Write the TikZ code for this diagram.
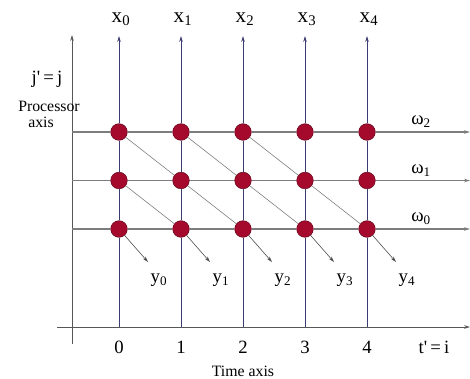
\documentclass[tikz,border=0pt]{standalone}
\usepackage{fontspec}
\setmainfont{Liberation Serif}
\definecolor{granate}{RGB}{165,10,45}
\definecolor{marino}{RGB}{60,60,115}
\definecolor{gris}{RGB}{125,125,125}
\usetikzlibrary{arrows.meta,positioning}

\begin{document}
\begin{tikzpicture}[x=0.03cm,y=-0.03cm,
    celda/.style={circle,fill=granate,draw=granate!60!black,thin,
                  minimum size=0.5cm,inner sep=0pt},
    eje/.style={gris!70!black,line width=0.8pt,-{Stealth[length=5pt,width=3pt]}},
    fila/.style={gris,line width=1pt,-{Stealth[length=5pt,width=3pt]}},
    columna/.style={marino,line width=0.8pt,-{Stealth[length=5pt,width=3pt]}},
    diag/.style={gris,line width=0.5pt},
    salida/.style={black!70,line width=0.5pt,-{Stealth[length=5pt,width=3pt]}},
    etq/.style={font=\fontsize{16}{18}\selectfont,inner sep=1pt},
    peq/.style={font=\fontsize{13.5}{15}\selectfont,inner sep=1pt}]
  \useasboundingbox (0,0) rectangle (470,378);
  % ejes
  \coordinate (vbot) at (72,344);
  \coordinate (vtop) at (72,35);
  \coordinate (hleft) at (57,327);
  \coordinate (hright) at (470,327);
  \draw[eje] (vbot) -- (vtop);
  \draw[eje] (hleft) -- (hright);
  % procesadores
  \foreach \i in {0,...,4}
    \foreach \j in {0,1,2}
      \node[celda] (c\i\j) at (119+62*\i,229-48.5*\j) {};
  % columnas x_i
  \foreach \i in {0,...,4} {
    \coordinate (b\i) at (119+62*\i,327);
    \coordinate (t\i) at (119+62*\i,36);
    \draw[columna] (b\i) -- (c\i0) -- (c\i1) -- (c\i2) -- (t\i);
    \node[font=\fontsize{18}{20}\selectfont,inner sep=1pt] (x\i) at (121+62*\i,19) {x\textsubscript{\i}};
    \node[etq] (n\i) at (119+62*\i,347) {\i};
  }
  % filas omega_j
  \foreach \j/\dy in {0/229,1/180.5,2/132} {
    \coordinate (w\j) at (72,\dy);
    \coordinate (e\j) at (470,\dy);
    \draw[fila] (w\j) -- (c0\j) -- (c1\j) -- (c2\j) -- (c3\j) -- (c4\j) -- (e\j);
    \node[etq] (om\j) at (421,\dy-10) {ω\textsubscript{\j}};
  }
  % salidas y_k
  \foreach \k in {0,...,4} {
    \coordinate (f\k) at (148+62*\k,262);
    \node[etq] (y\k) at (159+62*\k,280) {y\textsubscript{\k}};
  }
  \draw[salida] (c00) -- (f0);
  \draw[diag] (c01) -- (c10);
  \draw[salida] (c10) -- (f1);
  \draw[diag] (c02) -- (c11) -- (c20);
  \draw[salida] (c20) -- (f2);
  \draw[diag] (c12) -- (c21) -- (c30);
  \draw[salida] (c30) -- (f3);
  \draw[diag] (c22) -- (c31) -- (c40);
  \draw[salida] (c40) -- (f4);
  % rotulos
  \node[etq] (jj) at (47,79) {j\textquotesingle\,=\,j};
  \node[peq] (proc) at (49,106) {Processor};
  \node[peq] (pax) at (41,122) {axis};
  \node[etq] (ti) at (434,347) {t\textquotesingle\,=\,i};
  \node[peq] (tax) at (243,371) {Time axis};
\end{tikzpicture}
\end{document}
